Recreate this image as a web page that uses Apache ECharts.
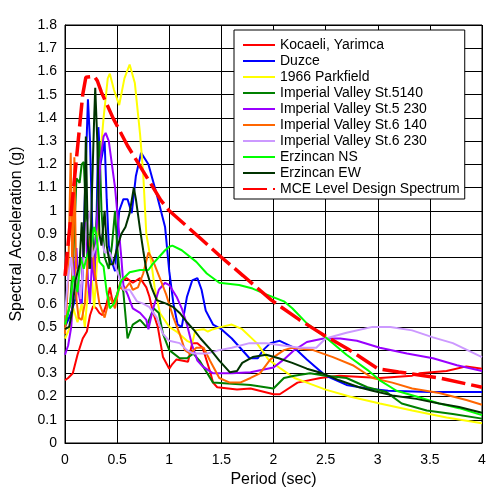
<!DOCTYPE html>
<html>
<head>
<meta charset="utf-8">
<script src="https://cdn.jsdelivr.net/npm/echarts@6/dist/echarts.min.js"></script>
<style>html,body{margin:0;padding:0;background:#fff}#c{width:502px;height:497px}</style>
</head>
<body>
<div id="c"></div>
<script>
const seriesNames = ["Kocaeli, Yarimca","Duzce","1966 Parkfield","Imperial Valley St.5140","Imperial Valley St.5 230","Imperial Valley St.6 140","Imperial Valley St.6 230","Erzincan NS","Erzincan EW","MCE Level Design Spectrum"];
const xTicks = [0,0.5,1,1.5,2,2.5,3,3.5,4];

const kocaeli = [[0,0.27],[0.03,0.28],[0.075,0.30],[0.12,0.38],[0.17,0.45],[0.21,0.48],[0.24,0.55],[0.27,0.59],[0.3,0.58],[0.33,0.56],[0.36,0.55],[0.4,0.60],[0.43,0.67],[0.46,0.60],[0.5,0.64],[0.53,0.69],[0.59,0.71],[0.65,0.69],[0.72,0.71],[0.78,0.67],[0.81,0.63],[0.84,0.57],[0.89,0.50],[0.94,0.37],[1.0,0.32],[1.03,0.34],[1.07,0.36],[1.18,0.35],[1.22,0.43],[1.27,0.43],[1.32,0.41],[1.39,0.31],[1.42,0.26],[1.46,0.24],[1.65,0.23],[1.78,0.235],[2.0,0.21],[2.06,0.21],[2.23,0.26],[2.45,0.28],[2.63,0.29],[3.02,0.28],[3.33,0.29],[3.4,0.30],[3.66,0.31],[3.85,0.33],[4.0,0.32]];

const duzce = [[0,0.50],[0.05,0.55],[0.1,0.62],[0.13,0.70],[0.16,0.60],[0.18,0.90],[0.2,1.2],[0.22,1.48],[0.24,1.3],[0.26,0.95],[0.28,0.70],[0.3,0.9],[0.32,1.36],[0.34,1.2],[0.36,1.25],[0.38,1.30],[0.40,1.05],[0.42,0.85],[0.45,0.78],[0.48,0.74],[0.5,0.88],[0.52,1.0],[0.56,1.05],[0.6,1.05],[0.64,0.99],[0.68,1.15],[0.73,1.25],[0.8,1.2],[0.88,1.07],[0.96,0.93],[1.0,0.74],[1.04,0.6],[1.08,0.51],[1.12,0.50],[1.17,0.63],[1.22,0.70],[1.27,0.71],[1.31,0.66],[1.35,0.57],[1.42,0.51],[1.5,0.49],[1.6,0.45],[1.77,0.365],[1.85,0.365],[1.9,0.40],[1.97,0.43],[2.06,0.44],[2.2,0.41],[2.32,0.36],[2.5,0.29],[2.7,0.25],[2.9,0.235],[3.1,0.225],[3.5,0.22],[4.0,0.22]];

const parkfield = [[0,0.45],[0.05,0.50],[0.08,0.58],[0.12,0.52],[0.16,0.60],[0.19,0.50],[0.22,0.65],[0.26,0.70],[0.28,0.58],[0.31,0.80],[0.33,1.19],[0.37,1.40],[0.41,1.57],[0.43,1.59],[0.47,1.52],[0.52,1.455],[0.57,1.57],[0.62,1.63],[0.67,1.55],[0.72,1.33],[0.75,1.16],[0.78,0.90],[0.83,0.77],[0.86,0.67],[0.91,0.56],[1.0,0.50],[1.07,0.48],[1.17,0.44],[1.22,0.43],[1.25,0.485],[1.33,0.49],[1.37,0.48],[1.42,0.49],[1.5,0.50],[1.6,0.51],[1.7,0.49],[1.84,0.43],[1.95,0.36],[2.07,0.32],[2.2,0.28],[2.32,0.26],[2.5,0.23],[2.73,0.20],[3.02,0.17],[3.33,0.14],[3.66,0.11],[4.0,0.085]];

const iv5140 = [[0,0.50],[0.05,0.60],[0.08,0.80],[0.11,1.14],[0.14,1.12],[0.16,1.20],[0.18,1.21],[0.2,1.0],[0.22,0.75],[0.25,0.95],[0.28,0.80],[0.31,1.0],[0.33,1.3],[0.35,1.0],[0.38,0.80],[0.42,0.75],[0.45,0.85],[0.48,1.0],[0.5,0.85],[0.53,0.70],[0.56,0.65],[0.6,0.45],[0.65,0.51],[0.72,0.53],[0.78,0.50],[0.85,0.58],[0.9,0.56],[0.94,0.47],[1.0,0.40],[1.1,0.365],[1.17,0.365],[1.23,0.385],[1.29,0.355],[1.42,0.26],[1.6,0.255],[1.78,0.25],[2.0,0.235],[2.1,0.28],[2.2,0.29],[2.35,0.30],[2.5,0.29],[2.7,0.28],[2.9,0.24],[3.08,0.22],[3.23,0.17],[3.47,0.14],[3.72,0.125],[4.0,0.105]];

const iv5230 = [[0,0.38],[0.03,0.42],[0.06,0.50],[0.09,0.75],[0.11,0.84],[0.13,0.65],[0.15,0.60],[0.18,0.85],[0.2,0.95],[0.22,0.70],[0.24,0.60],[0.26,0.80],[0.28,0.70],[0.3,0.90],[0.32,1.05],[0.34,1.22],[0.37,1.32],[0.39,1.335],[0.42,1.30],[0.45,1.20],[0.48,1.10],[0.51,0.95],[0.54,0.80],[0.56,0.68],[0.6,0.64],[0.65,0.58],[0.72,0.56],[0.78,0.53],[0.8,0.49],[0.84,0.57],[0.9,0.66],[0.96,0.69],[1.0,0.68],[1.07,0.63],[1.12,0.58],[1.17,0.51],[1.22,0.42],[1.27,0.355],[1.32,0.33],[1.42,0.30],[1.6,0.30],[1.78,0.305],[2.0,0.325],[2.1,0.36],[2.2,0.40],[2.32,0.435],[2.48,0.45],[2.64,0.45],[2.8,0.44],[3.02,0.41],[3.28,0.385],[3.53,0.365],[3.76,0.335],[4.0,0.31]];

const iv6140 = [[0,0.47],[0.03,0.70],[0.055,1.25],[0.07,0.70],[0.09,1.23],[0.11,0.62],[0.13,0.54],[0.16,0.53],[0.19,0.60],[0.22,0.80],[0.25,0.90],[0.28,0.75],[0.3,0.69],[0.33,0.60],[0.38,0.54],[0.43,0.63],[0.48,0.58],[0.52,0.67],[0.57,0.66],[0.62,0.69],[0.65,0.66],[0.7,0.67],[0.75,0.73],[0.8,0.82],[0.84,0.79],[0.91,0.71],[0.97,0.64],[1.04,0.54],[1.1,0.47],[1.15,0.40],[1.2,0.385],[1.26,0.41],[1.33,0.41],[1.39,0.355],[1.48,0.28],[1.58,0.26],[1.68,0.26],[1.78,0.28],[1.87,0.30],[1.97,0.36],[2.1,0.40],[2.18,0.41],[2.38,0.40],[2.57,0.37],[2.76,0.335],[2.95,0.28],[3.14,0.26],[3.33,0.235],[3.59,0.215],[3.85,0.185],[4.0,0.165]];

const iv6230 = [[0,0.55],[0.03,0.72],[0.06,0.80],[0.09,0.65],[0.12,0.75],[0.15,0.62],[0.18,0.80],[0.21,0.95],[0.24,1.0],[0.26,0.80],[0.3,0.85],[0.34,0.90],[0.38,0.82],[0.43,0.82],[0.5,0.74],[0.56,0.66],[0.62,0.66],[0.69,0.61],[0.75,0.60],[0.81,0.585],[0.88,0.54],[0.94,0.47],[1.0,0.44],[1.1,0.43],[1.17,0.40],[1.23,0.385],[1.36,0.385],[1.48,0.40],[1.6,0.41],[1.77,0.43],[1.93,0.43],[2.09,0.42],[2.25,0.41],[2.41,0.41],[2.5,0.45],[2.7,0.475],[2.95,0.50],[3.12,0.50],[3.33,0.485],[3.53,0.455],[3.72,0.43],[4.0,0.37]];

const erzNS = [[0,0.51],[0.05,0.60],[0.08,0.72],[0.12,0.65],[0.15,0.80],[0.18,0.75],[0.22,0.82],[0.25,0.85],[0.28,0.93],[0.3,0.90],[0.33,0.78],[0.37,0.76],[0.4,0.65],[0.43,0.58],[0.47,0.60],[0.5,0.64],[0.54,0.70],[0.62,0.735],[0.72,0.745],[0.8,0.745],[0.84,0.77],[0.9,0.80],[0.96,0.83],[1.0,0.845],[1.03,0.85],[1.12,0.83],[1.26,0.78],[1.36,0.73],[1.48,0.69],[1.67,0.68],[1.8,0.665],[1.93,0.64],[2.1,0.61],[2.18,0.58],[2.32,0.515],[2.5,0.455],[2.7,0.38],[2.9,0.315],[3.02,0.27],[3.18,0.225],[3.37,0.20],[3.59,0.17],[3.78,0.15],[4.0,0.12]];

const erzEW = [[0,0.49],[0.04,0.50],[0.07,0.57],[0.1,0.70],[0.14,0.77],[0.16,0.95],[0.18,0.80],[0.2,1.32],[0.22,0.85],[0.24,0.75],[0.26,1.10],[0.28,1.40],[0.29,1.53],[0.31,1.30],[0.33,0.90],[0.35,0.85],[0.38,1.0],[0.4,0.85],[0.43,0.77],[0.46,0.77],[0.5,0.84],[0.54,0.90],[0.58,0.93],[0.62,0.99],[0.66,1.10],[0.68,1.05],[0.72,0.92],[0.75,0.83],[0.78,0.745],[0.83,0.67],[0.88,0.615],[0.97,0.60],[1.04,0.585],[1.1,0.56],[1.17,0.52],[1.24,0.485],[1.3,0.45],[1.4,0.40],[1.48,0.355],[1.58,0.305],[1.65,0.31],[1.7,0.345],[1.8,0.37],[1.93,0.38],[2.05,0.365],[2.18,0.345],[2.32,0.32],[2.47,0.30],[2.63,0.27],[2.82,0.24],[2.95,0.225],[3.14,0.205],[3.37,0.19],[3.59,0.17],[3.78,0.155],[4.0,0.13]];

const mce = [[0,0.72],[0.17,1.50],[0.2,1.575],[0.28,1.58],[0.31,1.56],[0.35,1.51],[0.46,1.40],[0.6,1.28],[0.75,1.17],[0.92,1.045],[1.0,1.0],[1.29,0.885],[1.5,0.80],[1.71,0.72],[1.98,0.615],[2.25,0.53],[2.5,0.46],[2.73,0.40],[3.0,0.32],[3.2,0.306],[3.6,0.279],[4.0,0.24]];

const colors = ["#FF0000","#0000FF","#FFFF00","#008000","#9900FF","#FF6600","#CC99FF","#00FF00","#003300","#FF0000"];
const datasets = [kocaeli,duzce,parkfield,iv5140,iv5230,iv6140,iv6230,erzNS,erzEW,mce];

const font = "Liberation Sans, Arial, sans-serif";
const chart = echarts.init(document.getElementById('c'), null, {renderer:'canvas'});
const series = datasets.map((d,i)=>({
  name: seriesNames[i],
  type: 'line',
  data: d,
  symbol: 'none',
  showSymbol: false,
  animation: false,
  z: i===9 ? 10 : 2,
  lineStyle: i===9 ? {color: colors[i], width: 3.5, type: [24,6]} : {color: colors[i], width: 2},
  itemStyle: {color: colors[i]}
}));

chart.setOption({
  animation: false,
  backgroundColor: '#fff',
  grid: {left: 65, right: 20, top: 25, bottom: 54, show: true, borderColor: '#000', borderWidth: 1},
  legend: {
    orient: 'vertical', left: 234, top: 30,
    backgroundColor: '#fff', borderColor: '#000', borderWidth: 1,
    padding: [8,5,3,8], itemWidth: 32, itemHeight: 14, itemGap: 2,
    itemStyle: {opacity: 0},
    textStyle: {fontFamily: font, fontSize: 14, color: '#000'},
    data: seriesNames,
    z: 20
  },
  xAxis: {
    type: 'value', min: 0, max: 4, interval: 0.5,
    name: 'Period (sec)', nameLocation: 'middle', nameGap: 29,
    nameTextStyle: {fontFamily: font, fontSize: 16, color: '#000'},
    axisLine: {lineStyle: {color: '#000', width: 1}},
    axisTick: {show: false},
    axisLabel: {fontFamily: font, fontSize: 14, color: '#000', margin: 10, formatter: v => String(+v.toFixed(1))},
    splitLine: {show: true, lineStyle: {color: '#000', width: 1}}
  },
  yAxis: {
    type: 'value', min: 0, max: 1.8, interval: 0.1,
    name: 'Spectral Acceleration (g)', nameLocation: 'middle', nameGap: 40,
    nameTextStyle: {fontFamily: font, fontSize: 16, color: '#000'},
    axisLine: {show: true, lineStyle: {color: '#000', width: 1}},
    axisTick: {show: false},
    axisLabel: {fontFamily: font, fontSize: 14, color: '#000', margin: 8, formatter: v => String(+v.toFixed(1))},
    splitLine: {show: true, lineStyle: {color: '#000', width: 1}}
  },
  series: series
});
</script>
</body>
</html>
